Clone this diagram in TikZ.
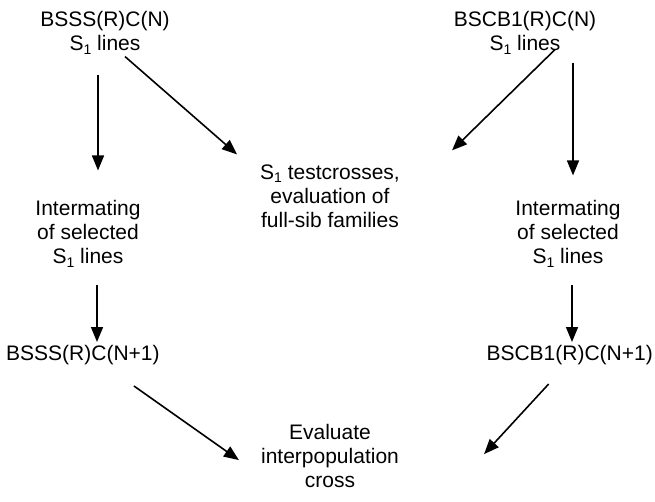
\documentclass[tikz,border=0pt]{standalone}
\usepackage{fontspec}
\setmainfont{Liberation Sans}
\usetikzlibrary{arrows.meta}
\newcommand{\sone}{S\raisebox{-3.5pt}{\fontsize{14}{14}\selectfont 1}}
\begin{document}
\begin{tikzpicture}[x=1pt,y=-1pt,
  lbl/.style={align=center,inner sep=0pt,font=\fontsize{21}{24}\selectfont},
  arr/.style={line width=1.6pt,-{Triangle[length=15pt,width=12pt]}}]
\useasboundingbox (0,0) rectangle (655,502);
\node[lbl] (tl) at (105,33) {BSSS(R)C(N)\\\sone{} lines};
\node[lbl] (tr) at (525,33) {BSCB1(R)C(N)\\\sone{} lines};
\node[lbl] (mid) at (330,196) {\sone{} testcrosses,\\evaluation of\\full-sib families};
\node[lbl] (il) at (88,234) {Intermating\\of selected\\\sone{} lines};
\node[lbl] (ir) at (568,234) {Intermating\\of selected\\\sone{} lines};
\node[lbl,anchor=west] (bl) at (6,355) {BSSS(R)C(N+1)};
\node[lbl,anchor=east] (br) at (653,355) {BSCB1(R)C(N+1)};
\node[lbl] (ev) at (330,456) {Evaluate\\interpopulation\\cross};
\coordinate (s1) at ([shift={(-7,20)}]tl.south);
\coordinate (s2) at ([shift={(48,8)}]tr.south);
\coordinate (s3) at ([shift={(9,17)}]il.south);
\coordinate (s4) at ([shift={(4,17)}]ir.south);
\draw[arr,shorten >=30pt] (s1) -- (s1 |- il.north);
\draw[arr] ([shift={(20,2)}]tl.south) -- ([shift={(-23,-10)}]mid.north west);
\draw[arr] ([shift={(30,-5)}]tr.south) -- ([shift={(52,-14)}]mid.north east);
\draw[arr,shorten >=25pt] (s2) -- (s2 |- ir.north);
\draw[arr,shorten >=3pt] (s3) -- (s3 |- bl.north);
\draw[arr,shorten >=3pt] (s4) -- (s4 |- br.north);
\draw[arr] ([shift={(51,21)}]bl.south) -- ([shift={(-22,36)}]ev.north west);
\draw[arr] ([shift={(-21,19)}]br.south) -- ([shift={(85,30)}]ev.north east);
\end{tikzpicture}
\end{document}
